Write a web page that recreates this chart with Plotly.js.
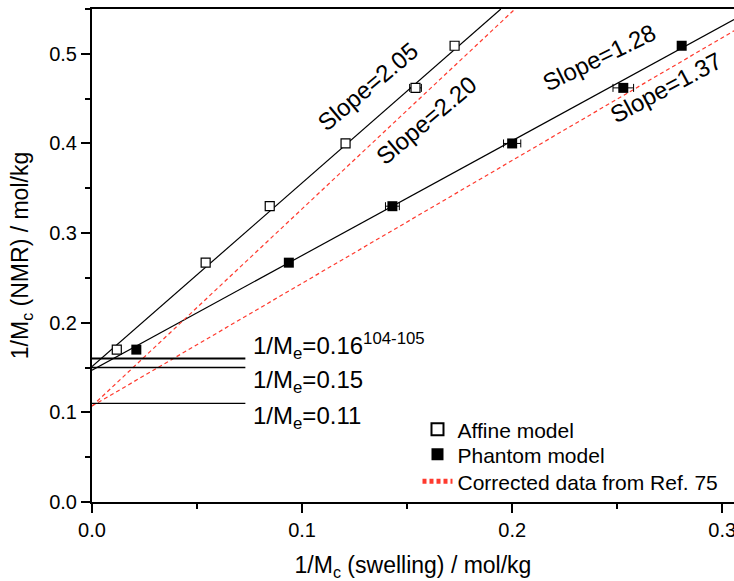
<!DOCTYPE html>
<html>
<head>
<meta charset="utf-8">
<script src="https://cdn.plot.ly/plotly-3.0.1.min.js"></script>
<style>
  html, body { margin: 0; padding: 0; background: #fff; }
  #chart { width: 734px; height: 581px; }
</style>
</head>
<body>
<div id="chart"></div>
<script>
// 1/Mc from swelling (x) against 1/Mc from NMR (y), mol/kg
const nmrValues      = [0.170, 0.267, 0.330, 0.400, 0.462, 0.509];
const affineSwelling = [0.0118, 0.0541, 0.0846, 0.1207, 0.1540, 0.1726];
const affineErr      = [0.0015, 0, 0, 0, 0.0028, 0];
const phantomSwelling = [0.0211, 0.0937, 0.1430, 0.2000, 0.2529, 0.2807];
const phantomErr      = [0.0015, 0, 0.0033, 0.0041, 0.0049, 0];

// linear fits: slope and intercept
const fitNames      = ['affine', 'phantom', 'corrected affine', 'corrected phantom'];
const fitSlopes     = [2.05, 1.28, 2.20, 1.37];
const fitIntercepts = [0.151, 0.147, 0.107, 0.107];
const fitDashed     = [false, false, true, true];

// entanglement levels 1/Me
const meValues = [0.16, 0.15, 0.11];
const meLabels = ['1/M<sub>e</sub>=0.16<sup>104-105</sup>', '1/M<sub>e</sub>=0.15', '1/M<sub>e</sub>=0.11'];
const meLineEnd = 0.073;

const xRange = [0, 0.3056];
const yRange = [0, 0.55];

const FONT = 'Liberation Sans, Arial, Helvetica, sans-serif';
const RED = '#ff3a2e';

const traces = [];

// fit lines, clipped to the plotting window
fitSlopes.forEach((m, i) => {
  const b = fitIntercepts[i];
  const xEnd = Math.min(xRange[1], (yRange[1] - b) / m);
  traces.push({
    x: [0, xEnd],
    y: [b, b + m * xEnd],
    mode: 'lines',
    name: fitDashed[i] ? 'Corrected data from Ref. 75' : fitNames[i],
    showlegend: fitDashed[i] && i === 2,
    legend: 'legend3',
    line: fitDashed[i]
      ? { color: RED, width: 1.2, dash: '4px,3px' }
      : { color: '#000', width: 1.2 },
    hoverinfo: 'skip'
  });
});

// horizontal 1/Me levels
meValues.forEach((v, i) => {
  traces.push({
    x: [0, meLineEnd],
    y: [v, v],
    mode: 'lines',
    showlegend: false,
    line: { color: '#000', width: i === 0 ? 2 : 1.4 },
    hoverinfo: 'skip'
  });
});

traces.push({
  x: affineSwelling,
  y: nmrValues,
  mode: 'markers',
  name: 'Affine model',
  legend: 'legend',
  marker: { symbol: 'square', size: 9, color: '#fff', line: { color: '#000', width: 1.2 } },
  error_x: { type: 'data', array: affineErr, visible: true, color: '#000', thickness: 1, width: 4 }
});

traces.push({
  x: phantomSwelling,
  y: nmrValues,
  mode: 'markers',
  name: 'Phantom model',
  legend: 'legend2',
  marker: { symbol: 'square', size: 10, color: '#000', line: { color: '#000', width: 0 } },
  error_x: { type: 'data', array: phantomErr, visible: true, color: '#000', thickness: 1, width: 4 }
});

const annotations = [];
// slope labels along the fit lines
const slopeLabelPos = [
  { x: 0.1313, y: 0.463, a: -40 },
  { x: 0.2413, y: 0.496, a: -26 },
  { x: 0.1589, y: 0.426, a: -40 },
  { x: 0.2732, y: 0.462, a: -28 }
];
fitSlopes.forEach((m, i) => {
  annotations.push({
    x: slopeLabelPos[i].x, y: slopeLabelPos[i].y, xref: 'x', yref: 'y',
    text: 'Slope=' + m.toFixed(2), showarrow: false, textangle: slopeLabelPos[i].a,
    font: { family: FONT, size: 24, color: '#000' },
    xanchor: 'center', yanchor: 'middle'
  });
});

// 1/Me labels
const meLabelY = [0.1745, 0.1345, 0.0945];
meLabels.forEach((t, i) => {
  annotations.push({
    x: 0.0755, y: meLabelY[i], xref: 'x', yref: 'y',
    text: t, showarrow: false, xanchor: 'left', yanchor: 'middle',
    font: { family: FONT, size: 24, color: '#000' }
  });
});

const axisCommon = {
  showgrid: false, zeroline: false,
  showline: true, linecolor: '#000', linewidth: 2,
  ticks: 'outside', ticklen: 9, tickwidth: 2, tickcolor: '#000',
  tickfont: { family: FONT, size: 20, color: '#000' },
  tickformat: '.1f', dtick: 0.1, tick0: 0,
  ticklabeloverflow: 'allow',
  minor: { dtick: 0.05, ticks: 'outside', ticklen: 5, tickwidth: 2, tickcolor: '#000' }
};

// one single-entry legend per row so rows sit at fixed heights
function legendBox(yPaper) {
  return {
    x: 0.507, y: yPaper, xanchor: 'left', yanchor: 'middle',
    bgcolor: 'rgba(0,0,0,0)', borderwidth: 0,
    font: { family: FONT, size: 21, color: '#000' },
    itemsizing: 'constant'
  };
}

const layout = {
  width: 734, height: 581,
  margin: { l: 92, r: 0, t: 9, b: 79 },
  paper_bgcolor: '#fff', plot_bgcolor: '#fff',
  showlegend: true,
  legend: legendBox(0.1467),
  legend2: legendBox(0.0960),
  legend3: legendBox(0.0412),
  xaxis: Object.assign({}, axisCommon, {
    range: xRange, mirror: true,
    title: { text: '1/M<sub>c</sub> (swelling) / mol/kg', font: { family: FONT, size: 23, color: '#000' }, standoff: 18 }
  }),
  yaxis: Object.assign({}, axisCommon, {
    range: yRange, mirror: false,
    title: { text: '1/M<sub>c</sub> (NMR) / mol/kg', font: { family: FONT, size: 23, color: '#000' }, standoff: 14 }
  }),
  annotations: annotations
};

Plotly.newPlot('chart', traces, layout, { displayModeBar: false, staticPlot: true });
</script>
</body>
</html>
